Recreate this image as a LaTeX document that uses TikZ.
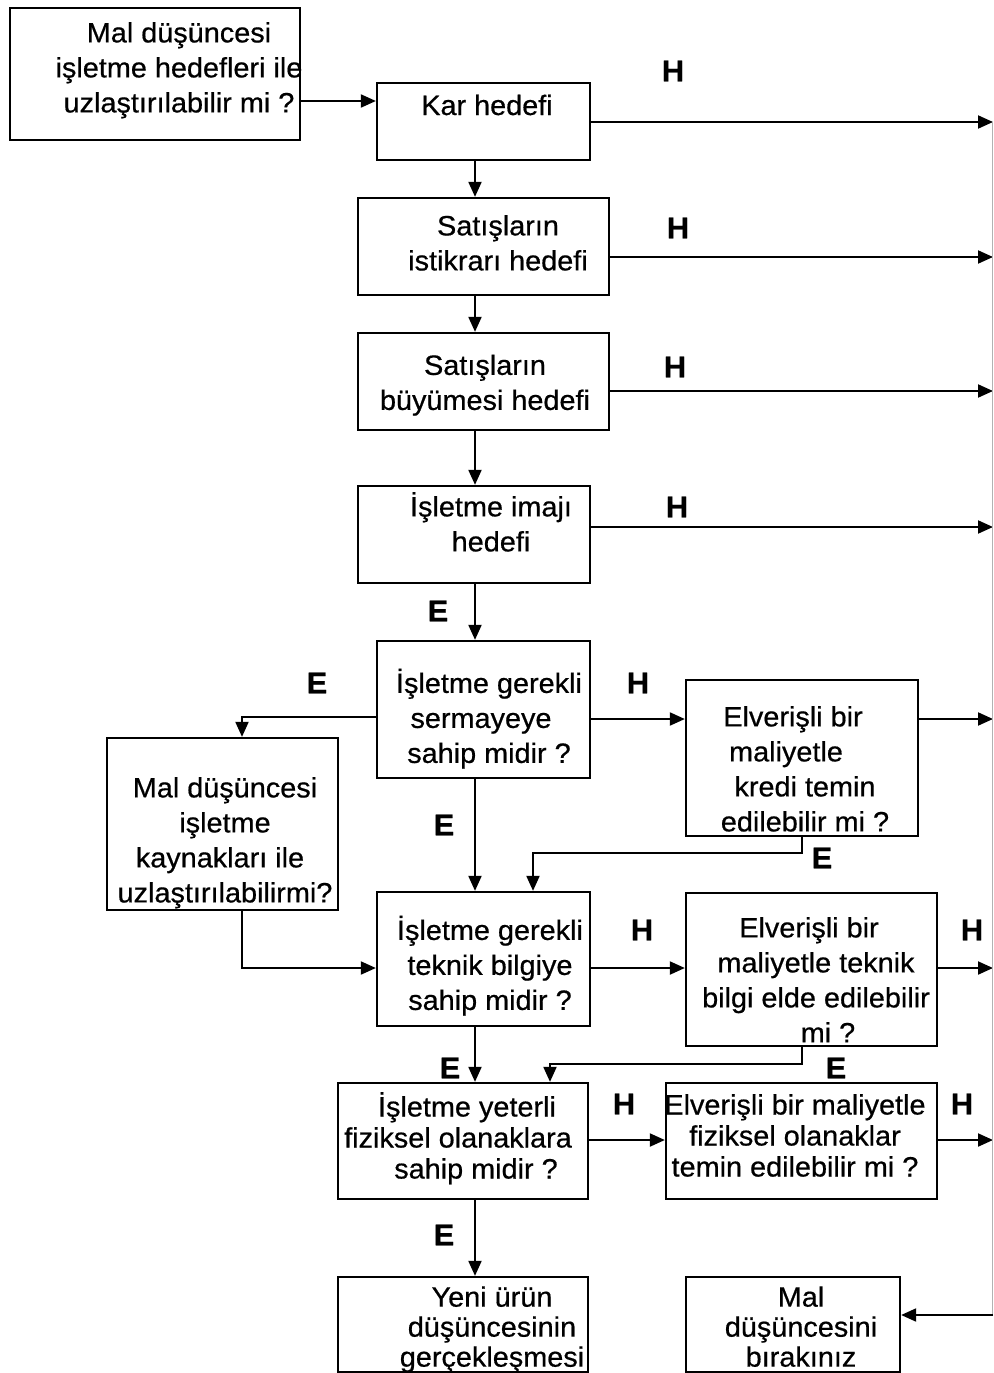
\documentclass[tikz,border=0pt]{standalone}
\usepackage{fontspec}
\setmainfont{Liberation Sans}[FakeStretch=1.03, FakeBold=0.6]
\usetikzlibrary{arrows.meta}
\begin{document}
\begin{tikzpicture}[x=1pt,y=-1pt,
  box/.style={draw, line width=2.3pt, inner sep=0pt},
  txt/.style={inner sep=0pt, align=center, font=\fontsize{28}{35}\selectfont,
    execute at begin node=\strut, execute at end node=\strut},
  tight/.style={font=\fontsize{28}{31}\selectfont},
  tighter/.style={font=\fontsize{28}{30}\selectfont},
  flag/.style={inner sep=0pt, font=\fontsize{30}{34}\selectfont\bfseries},
  link/.style={line width=2pt, -{Triangle[length=15pt,width=13pt]}},
  bus/.style={line width=0.8pt, black!30}]
\useasboundingbox (0,0) rectangle (993,1373);

% guide coordinates: main spine, left branch, right-hand collector
\coordinate (spine) at (475,0);
\coordinate (lx) at (242,0);
\coordinate (r1) at (993,122);
\coordinate (r2) at (993,257);
\coordinate (r3) at (993,391);
\coordinate (r4) at (993,527);
\coordinate (r5) at (993,719);
\coordinate (r6) at (993,968);
\coordinate (r7) at (993,1140);
\coordinate (r8) at (993,1315);

% boxes
\node[box, minimum width=290pt, minimum height=132pt] (b1) at (155,74) {};
\node[box, minimum width=213pt, minimum height=77pt] (kar) at (483.5,121.5) {};
\node[box, minimum width=251pt, minimum height=97pt] (b3) at (483.5,246.5) {};
\node[box, minimum width=251pt, minimum height=97pt] (b4) at (483.5,381.5) {};
\node[box, minimum width=232pt, minimum height=97pt] (b5) at (474,534.5) {};
\node[box, minimum width=213pt, minimum height=137pt] (b6) at (483.5,709.5) {};
\node[box, minimum width=232pt, minimum height=156pt] (b7) at (802,758) {};
\node[box, minimum width=231pt, minimum height=172pt] (b8) at (222.5,824) {};
\node[box, minimum width=213pt, minimum height=134pt] (b9) at (483.5,959) {};
\node[box, minimum width=251pt, minimum height=153pt] (b10) at (811.5,969.5) {};
\node[box, minimum width=250pt, minimum height=116pt] (b11) at (463,1141) {};
\node[box, minimum width=271pt, minimum height=116pt] (b12) at (801.5,1141) {};
\node[box, minimum width=250pt, minimum height=95pt] (b13) at (463,1324.5) {};
\node[box, minimum width=214pt, minimum height=95pt] (b14) at (793,1324.5) {};

% box texts
\node[txt] (t1) at (179,72.5) {Mal düşüncesi\\işletme hedefleri ile\\uzlaştırılabilir mi ?};
\node[txt] (tkar) at (487,108) {Kar hedefi};
\node[txt] (t3) at (498,248) {Satışların\\istikrarı hedefi};
\node[txt] (t4) at (485,387.5) {Satışların\\büyümesi hedefi};
\node[txt] (t5) at (491,527) {İşletme imajı\\hedefi};
\node[txt] (t6) at (489,721) {İşletme gerekli\\\hspace*{-16pt}sermayeye\\sahip midir ?};
\node[txt] (t7) at (797,774) {\hspace*{-8pt}Elverişli bir\\\hspace*{-22pt}maliyetle\\\hspace*{16pt}kredi temin\\\hspace*{16pt}edilebilir mi ?};
\node[txt] (t8) at (225,845) {Mal düşüncesi\\işletme\\\hspace*{-10pt}kaynakları ile\\uzlaştırılabilirmi?};
\node[txt] (t9) at (490,968) {İşletme gerekli\\teknik bilgiye\\sahip midir ?};
\node[txt] (t10) at (816,985) {\hspace*{-14pt}Elverişli bir\\maliyetle teknik\\bilgi elde edilebilir\\\hspace*{24pt}mi ?};
\node[txt, tight] (t11) at (467,1140) {İşletme yeterli\\\hspace*{-18pt}fiziksel olanaklara\\\hspace*{18pt}sahip midir ?};
\node[txt, tight] (t12) at (795,1140) {Elverişli bir maliyetle\\fiziksel olanaklar\\temin edilebilir mi ?};
\node[txt, tighter] (t13) at (492,1331) {Yeni ürün\\düşüncesinin\\gerçekleşmesi};
\node[txt, tighter] (t14) at (801,1331) {Mal\\düşüncesini\\bırakınız};

% answer flags
\node[flag] (h1) at (673,71) {H};
\node[flag] (h2) at (678,228) {H};
\node[flag] (h3) at (675,367) {H};
\node[flag] (h4) at (677,507) {H};
\node[flag] (e1) at (438,611) {E};
\node[flag] (e2) at (317,683) {E};
\node[flag] (h5) at (638,683) {H};
\node[flag] (e3) at (444,825) {E};
\node[flag] (e4) at (822,858) {E};
\node[flag] (h6) at (642,930) {H};
\node[flag] (h7) at (972,930) {H};
\node[flag] (e5) at (450,1068) {E};
\node[flag] (e6) at (836,1068) {E};
\node[flag] (h8) at (624,1104) {H};
\node[flag] (h9) at (962,1104) {H};
\node[flag] (e7) at (444,1235) {E};

% main spine
\draw[link] (b1.east |- 0,101) -- (kar.west |- 0,101);
\draw[link] (kar.south -| spine) -- (b3.north -| spine);
\draw[link] (b3.south -| spine) -- (b4.north -| spine);
\draw[link] (b4.south -| spine) -- (b5.north -| spine);
\draw[link] (b5.south -| spine) -- (b6.north -| spine);
\draw[link] (b6.south -| spine) -- (b9.north -| spine);
\draw[link] (b9.south -| spine) -- (b11.north -| spine);
\draw[link] (b11.south -| spine) -- (b13.north -| spine);

% "H" exits to the right-hand collector
\draw[link] (kar.east |- r1) -- (r1);
\draw[link] (b3.east |- r2) -- (r2);
\draw[link] (b4.east |- r3) -- (r3);
\draw[link] (b5.east |- r4) -- (r4);
\draw[link] (b7.east |- r5) -- (r5);
\draw[link] (b10.east |- r6) -- (r6);
\draw[link] (b12.east |- r7) -- (r7);

% side branches
\draw[link] (b6.east |- r5) -- (b7.west |- r5);
\draw[link] (b6.west |- 0,717) -| (b8.north -| lx);
\draw[link] (b8.south -| lx) |- (b9.west |- r6);
\draw[link] (b9.east |- r6) -- (b10.west |- r6);
\draw[link] (b7.south -| 802,0) -- (802,853) -| (b9.north -| 533,0);
\draw[link] (b10.south -| 802,0) -- (802,1064) -| (b11.north -| 550,0);
\draw[link] (b11.east |- r7) -- (b12.west |- r7);

% collector down to the reject box
\draw[bus] (992,122) -- (992,1315);
\draw[link] (r8) -- (b14.east |- r8);
\end{tikzpicture}
\end{document}
